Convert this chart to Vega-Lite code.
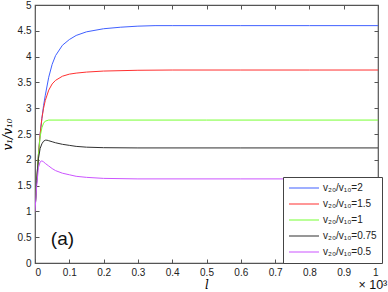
{
  "$schema": "https://vega.github.io/schema/vega-lite/v6.json",
  "width": 343,
  "height": 258,
  "autosize": "none",
  "padding": {"left": 35, "top": 5, "right": 10, "bottom": 29},
  "background": "white",
  "config": {
    "view": {"stroke": "#555", "strokeWidth": 1.2},
    "font": "Liberation Sans",
    "axis": {"grid": false, "domain": false, "ticks": true, "tickColor": "#555", "tickWidth": 1, "tickSize": 4, "offset": -4, "labelFont": "Liberation Sans", "labelFontSize": 10, "labelColor": "#222"}
  },
  "datasets": {
    "curves": [
      {"l":0,"k":"v₂₀/v₁₀=2","v":1.0},{"l":0.005,"k":"v₂₀/v₁₀=2","v":1.6},{"l":0.01,"k":"v₂₀/v₁₀=2","v":2.1},{"l":0.015,"k":"v₂₀/v₁₀=2","v":2.5},{"l":0.02,"k":"v₂₀/v₁₀=2","v":2.8},{"l":0.025,"k":"v₂₀/v₁₀=2","v":3.05},{"l":0.03,"k":"v₂₀/v₁₀=2","v":3.25},{"l":0.04,"k":"v₂₀/v₁₀=2","v":3.6},{"l":0.05,"k":"v₂₀/v₁₀=2","v":3.85},{"l":0.06,"k":"v₂₀/v₁₀=2","v":4.02},{"l":0.08,"k":"v₂₀/v₁₀=2","v":4.22},{"l":0.1,"k":"v₂₀/v₁₀=2","v":4.33},{"l":0.12,"k":"v₂₀/v₁₀=2","v":4.41},{"l":0.15,"k":"v₂₀/v₁₀=2","v":4.48},{"l":0.2,"k":"v₂₀/v₁₀=2","v":4.54},{"l":0.25,"k":"v₂₀/v₁₀=2","v":4.57},{"l":0.3,"k":"v₂₀/v₁₀=2","v":4.59},{"l":0.35,"k":"v₂₀/v₁₀=2","v":4.6},{"l":0.4,"k":"v₂₀/v₁₀=2","v":4.6},{"l":0.6,"k":"v₂₀/v₁₀=2","v":4.6},{"l":0.8,"k":"v₂₀/v₁₀=2","v":4.6},{"l":1.0,"k":"v₂₀/v₁₀=2","v":4.6},
      {"l":0,"k":"v₂₀/v₁₀=1.5","v":1.0},{"l":0.005,"k":"v₂₀/v₁₀=1.5","v":1.6},{"l":0.01,"k":"v₂₀/v₁₀=1.5","v":2.1},{"l":0.015,"k":"v₂₀/v₁₀=1.5","v":2.5},{"l":0.02,"k":"v₂₀/v₁₀=1.5","v":2.8},{"l":0.025,"k":"v₂₀/v₁₀=1.5","v":3.0},{"l":0.03,"k":"v₂₀/v₁₀=1.5","v":3.15},{"l":0.04,"k":"v₂₀/v₁₀=1.5","v":3.35},{"l":0.05,"k":"v₂₀/v₁₀=1.5","v":3.47},{"l":0.06,"k":"v₂₀/v₁₀=1.5","v":3.54},{"l":0.08,"k":"v₂₀/v₁₀=1.5","v":3.62},{"l":0.1,"k":"v₂₀/v₁₀=1.5","v":3.66},{"l":0.12,"k":"v₂₀/v₁₀=1.5","v":3.68},{"l":0.15,"k":"v₂₀/v₁₀=1.5","v":3.7},{"l":0.2,"k":"v₂₀/v₁₀=1.5","v":3.72},{"l":0.3,"k":"v₂₀/v₁₀=1.5","v":3.735},{"l":0.4,"k":"v₂₀/v₁₀=1.5","v":3.74},{"l":0.6,"k":"v₂₀/v₁₀=1.5","v":3.74},{"l":0.8,"k":"v₂₀/v₁₀=1.5","v":3.74},{"l":1.0,"k":"v₂₀/v₁₀=1.5","v":3.74},
      {"l":0,"k":"v₂₀/v₁₀=1","v":1.0},{"l":0.005,"k":"v₂₀/v₁₀=1","v":1.6},{"l":0.01,"k":"v₂₀/v₁₀=1","v":2.1},{"l":0.015,"k":"v₂₀/v₁₀=1","v":2.45},{"l":0.02,"k":"v₂₀/v₁₀=1","v":2.62},{"l":0.025,"k":"v₂₀/v₁₀=1","v":2.71},{"l":0.03,"k":"v₂₀/v₁₀=1","v":2.75},{"l":0.04,"k":"v₂₀/v₁₀=1","v":2.77},{"l":0.1,"k":"v₂₀/v₁₀=1","v":2.77},{"l":0.5,"k":"v₂₀/v₁₀=1","v":2.77},{"l":1.0,"k":"v₂₀/v₁₀=1","v":2.77},
      {"l":0,"k":"v₂₀/v₁₀=0.75","v":1.0},{"l":0.005,"k":"v₂₀/v₁₀=0.75","v":1.6},{"l":0.01,"k":"v₂₀/v₁₀=0.75","v":2.02},{"l":0.015,"k":"v₂₀/v₁₀=0.75","v":2.22},{"l":0.02,"k":"v₂₀/v₁₀=0.75","v":2.31},{"l":0.025,"k":"v₂₀/v₁₀=0.75","v":2.36},{"l":0.03,"k":"v₂₀/v₁₀=0.75","v":2.38},{"l":0.035,"k":"v₂₀/v₁₀=0.75","v":2.38},{"l":0.04,"k":"v₂₀/v₁₀=0.75","v":2.37},{"l":0.05,"k":"v₂₀/v₁₀=0.75","v":2.35},{"l":0.06,"k":"v₂₀/v₁₀=0.75","v":2.33},{"l":0.08,"k":"v₂₀/v₁₀=0.75","v":2.3},{"l":0.1,"k":"v₂₀/v₁₀=0.75","v":2.28},{"l":0.12,"k":"v₂₀/v₁₀=0.75","v":2.26},{"l":0.15,"k":"v₂₀/v₁₀=0.75","v":2.245},{"l":0.2,"k":"v₂₀/v₁₀=0.75","v":2.235},{"l":0.3,"k":"v₂₀/v₁₀=0.75","v":2.23},{"l":0.6,"k":"v₂₀/v₁₀=0.75","v":2.23},{"l":1.0,"k":"v₂₀/v₁₀=0.75","v":2.23},
      {"l":0,"k":"v₂₀/v₁₀=0.5","v":1.0},{"l":0.005,"k":"v₂₀/v₁₀=0.5","v":1.5},{"l":0.01,"k":"v₂₀/v₁₀=0.5","v":1.85},{"l":0.015,"k":"v₂₀/v₁₀=0.5","v":1.96},{"l":0.02,"k":"v₂₀/v₁₀=0.5","v":1.98},{"l":0.025,"k":"v₂₀/v₁₀=0.5","v":1.96},{"l":0.03,"k":"v₂₀/v₁₀=0.5","v":1.93},{"l":0.04,"k":"v₂₀/v₁₀=0.5","v":1.88},{"l":0.05,"k":"v₂₀/v₁₀=0.5","v":1.83},{"l":0.06,"k":"v₂₀/v₁₀=0.5","v":1.79},{"l":0.08,"k":"v₂₀/v₁₀=0.5","v":1.74},{"l":0.1,"k":"v₂₀/v₁₀=0.5","v":1.71},{"l":0.12,"k":"v₂₀/v₁₀=0.5","v":1.68},{"l":0.15,"k":"v₂₀/v₁₀=0.5","v":1.66},{"l":0.2,"k":"v₂₀/v₁₀=0.5","v":1.64},{"l":0.3,"k":"v₂₀/v₁₀=0.5","v":1.63},{"l":0.6,"k":"v₂₀/v₁₀=0.5","v":1.63},{"l":1.0,"k":"v₂₀/v₁₀=0.5","v":1.63}
    ],
    "notes": [
      {"l":0.08,"v":0.47,"label":"(a)","size":19},
      {"l":0.985,"v":-0.42,"label":"× 10³","size":12.5}
    ]
  },
  "layer": [
    {
      "data": {"name": "curves"},
      "mark": {"type": "line", "strokeWidth": 1, "clip": true},
      "encoding": {
        "x": {"field": "l", "type": "quantitative", "scale": {"domain": [0, 1], "nice": false},
              "axis": {"orient": "bottom", "values": [0,0.1,0.2,0.3,0.4,0.5,0.6,0.7,0.8,0.9,1], "format": "~g", "labelPadding": 4, "title": "l", "titleFont": "DejaVu Serif", "titleFontStyle": "italic", "titleFontWeight": "normal", "titleFontSize": 12, "titlePadding": 2}},
        "y": {"field": "v", "type": "quantitative", "scale": {"domain": [0, 5], "nice": false},
              "axis": {"orient": "left", "values": [0,0.5,1,1.5,2,2.5,3,3.5,4,4.5,5], "format": "~g", "labelPadding": 4, "title": "v₁/v₁₀", "titleFont": "DejaVu Serif", "titleFontStyle": "italic", "titleFontWeight": "normal", "titleFontSize": 12, "titlePadding": 3}},
        "color": {"field": "k", "type": "nominal",
                  "scale": {"domain": ["v₂₀/v₁₀=2","v₂₀/v₁₀=1.5","v₂₀/v₁₀=1","v₂₀/v₁₀=0.75","v₂₀/v₁₀=0.5"], "range": ["#4060ff","#ff3030","#77ff33","#303030","#cc55ff"]},
                  "legend": {"title": null, "orient": "none", "legendX": 248, "legendY": 172, "symbolType": "stroke", "symbolSize": 900, "clipHeight": 12, "symbolStrokeWidth": 1.2, "labelFont": "Liberation Sans", "labelFontSize": 10, "labelColor": "#222", "strokeColor": "#444", "fillColor": "white", "padding": 5, "rowPadding": 4, "labelOffset": 3}}
      }
    },
    {
      "data": {"name": "notes"},
      "mark": {"type": "text", "font": "Liberation Sans", "color": "#111", "baseline": "middle", "align": "center"},
      "encoding": {
        "x": {"field": "l", "type": "quantitative", "scale": {"domain": [0, 1], "nice": false},
              "axis": {"orient": "top", "values": [0,0.1,0.2,0.3,0.4,0.5,0.6,0.7,0.8,0.9,1], "labels": false, "title": null}},
        "y": {"field": "v", "type": "quantitative", "scale": {"domain": [0, 5], "nice": false},
              "axis": {"orient": "right", "values": [0,0.5,1,1.5,2,2.5,3,3.5,4,4.5,5], "labels": false, "title": null}},
        "text": {"field": "label"},
        "size": {"field": "size", "type": "quantitative", "scale": null}
      }
    }
  ],
  "resolve": {"axis": {"x": "independent", "y": "independent"}}
}
